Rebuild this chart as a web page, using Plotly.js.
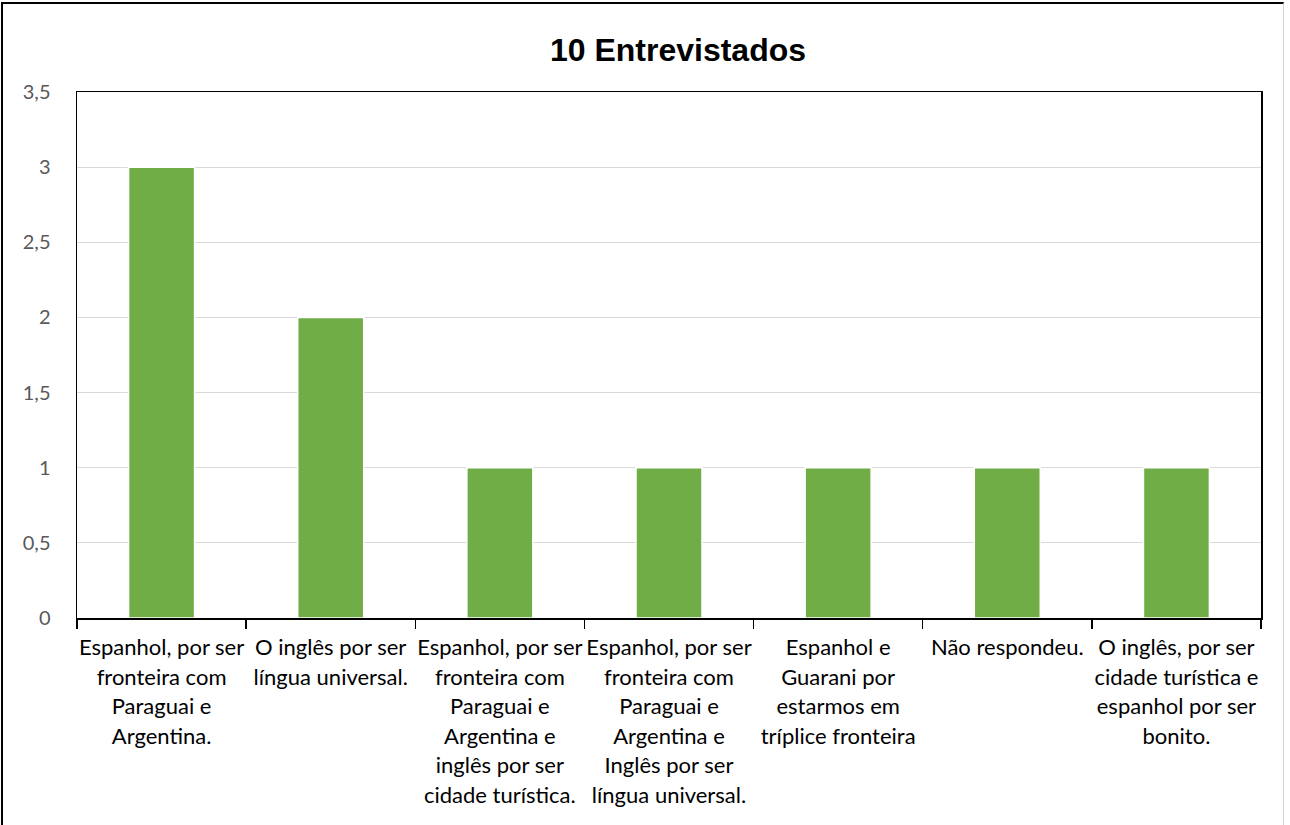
<!DOCTYPE html>
<html>
<head>
<meta charset="utf-8">
<script src="https://cdn.plot.ly/plotly-3.0.1.min.js"></script>
<style>
  html, body { margin: 0; padding: 0; background: #fff; }
  #wrap { position: relative; width: 1290px; height: 825px; overflow: hidden; }
  #chart { width: 1290px; height: 825px; }
  #frame { position: absolute; left: 1px; top: 2px; width: 1283px; height: 840px;
           border-left: 2px solid #000; border-top: 2px solid #000; border-right: 1px solid #d0d0d0;
           pointer-events: none; box-sizing: border-box; }
</style>
</head>
<body>
<div id="wrap">
  <div id="chart"></div>
  <div id="frame"></div>
</div>
<script>
const categories = [
  "Espanhol, por ser<br>fronteira com<br>Paraguai e<br>Argentina.",
  "O inglês por ser<br>língua universal.",
  "Espanhol, por ser<br>fronteira com<br>Paraguai e<br>Argentina e<br>inglês por ser<br>cidade turística.",
  "Espanhol, por ser<br>fronteira com<br>Paraguai e<br>Argentina e<br>Inglês por ser<br>língua universal.",
  "Espanhol e<br>Guarani por<br>estarmos em<br>tríplice fronteira",
  "Não respondeu.",
  "O inglês, por ser<br>cidade turística e<br>espanhol por ser<br>bonito."
];
const values = [3, 2, 1, 1, 1, 1, 1];
const chartTitle = "10 Entrevistados";

const ids = categories.map((c, i) => "c" + i);
const tickText = categories.map(c =>
  c.split("<br>").map(l => '<span style="font-size:22px">' + l + '</span>').join("<br>")
);

const trace = {
  type: "bar",
  x: ids,
  y: values,
  width: 0.39,
  marker: { color: "#70AD47", line: { color: "#ffffff", width: 1.5 } },
  hoverinfo: "x+y"
};

const layout = {
  width: 1290,
  height: 825,
  margin: { l: 77, r: 29, t: 92, b: 207 },
  paper_bgcolor: "#ffffff",
  plot_bgcolor: "#ffffff",
  separators: ",.",
  showlegend: false,
  font: { family: "Lato, 'Open Sans', sans-serif", color: "#000" },
  title: {
    text: "<b>" + chartTitle + "</b>",
    font: { family: "'Liberation Sans', Arial, sans-serif", size: 32, color: "#000" },
    xref: "container", x: 678 / 1290, xanchor: "center",
    yref: "container", y: 1 - 50 / 825, yanchor: "middle"
  },
  xaxis: {
    type: "category",
    tickmode: "array",
    tickvals: ids,
    ticktext: tickText,
    tickson: "boundaries",
    ticks: "outside",
    ticklen: 9,
    tickwidth: 1.5,
    tickcolor: "#000",
    ticklabelstandoff: 8,
    showline: true,
    linecolor: "#000",
    linewidth: 1.5,
    mirror: true,
    showgrid: false,
    tickangle: 0,
    tickfont: { family: "Lato, sans-serif", size: 22.8, color: "#000" },
    range: [-0.5, 6.5]
  },
  yaxis: {
    range: [0, 3.5],
    dtick: 0.5,
    tick0: 0,
    showgrid: true,
    gridcolor: "#d9d9d9",
    gridwidth: 1,
    zeroline: false,
    showline: true,
    linecolor: "#000",
    linewidth: 1.5,
    mirror: true,
    ticks: "",
    ticklabelstandoff: 21,
    tickfont: { family: "Lato, sans-serif", size: 20, color: "#595959" }
  },
  bargap: 0.6
};

Plotly.newPlot("chart", [trace], layout, { displayModeBar: false, staticPlot: true });
</script>
</body>
</html>
